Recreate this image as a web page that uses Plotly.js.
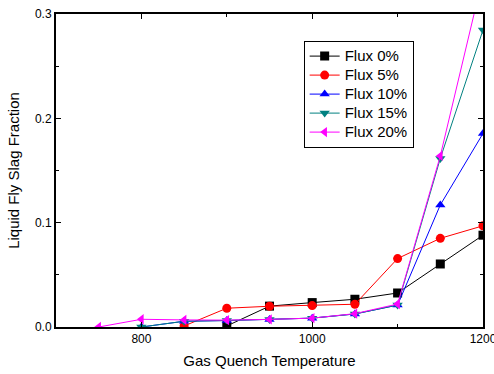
<!DOCTYPE html>
<html>
<head>
<meta charset="utf-8">
<script src="https://cdn.plot.ly/plotly-3.0.1.min.js"></script>
<style>html,body{margin:0;padding:0;background:#fff;}#chart{width:494px;height:374px;}</style>
</head>
<body>
<div id="chart"></div>
<script>
const x0 = [900, 950, 1000, 1050, 1100, 1150, 1200];
const flux0 = [0.001, 0.020, 0.0234, 0.0266, 0.0326, 0.0604, 0.088];
const x5 = [850, 900, 950, 1000, 1050, 1100, 1150, 1200];
const flux5 = [0.001, 0.018, 0.0199, 0.0205, 0.0218, 0.0656, 0.085, 0.097];
const x10 = [800, 850, 900, 950, 1000, 1050, 1100, 1150, 1200];
const flux10 = [0.0, 0.0055, 0.0062, 0.0071, 0.0085, 0.0125, 0.021, 0.117, 0.1855];
const x15 = [800, 850, 900, 950, 1000, 1050, 1100, 1150, 1200];
const flux15 = [0.0, 0.0055, 0.0062, 0.0071, 0.0085, 0.0125, 0.021, 0.1616, 0.2847];
const x20 = [750, 800, 850, 900, 950, 1000, 1050, 1100, 1150, 1200];
const flux20 = [0.0, 0.0074, 0.0068, 0.0066, 0.0073, 0.0085, 0.0128, 0.022, 0.164, 0.336];
const names = ['Flux 0%', 'Flux 5%', 'Flux 10%', 'Flux 15%', 'Flux 20%'];
const colors = ['#000000', '#ff0000', '#0000ff', '#008080', '#ff00ff'];
const symbols = ['square', 'circle', 'triangle-up', 'triangle-down', 'triangle-left'];
const xs = [x0, x5, x10, x15, x20];
const ys = [flux0, flux5, flux10, flux15, flux20];

const traces = names.map((n, i) => ({
  x: xs[i], y: ys[i], name: '<span style="font-size:15px">' + n + '</span>',
  type: 'scatter', mode: 'lines+markers',
  line: {color: colors[i], width: 1},
  marker: {color: colors[i], symbol: symbols[i], size: 9}
}));

const font = {family: 'Liberation Sans, Arial, sans-serif', color: '#000'};
const layout = {
  width: 494, height: 374,
  margin: {l: 56, r: 11, t: 14, b: 47},
  paper_bgcolor: '#fff', plot_bgcolor: '#fff',
  font: Object.assign({size: 12}, font),
  showlegend: true,
  legend: {
    x: 0.58, xanchor: 'left', y: 0.915, yanchor: 'top',
    bordercolor: '#000', borderwidth: 1, bgcolor: '#fff',
    font: Object.assign({size: 12}, font),
    tracegroupgap: 0, itemwidth: 30
  },
  xaxis: {
    range: [700, 1200], tick0: 0, dtick: 200,
    showline: true, linecolor: '#000', linewidth: 2, mirror: 'ticks',
    ticks: 'inside', ticklen: 5, tickwidth: 1, tickcolor: '#000',
    minor: {ticks: 'inside', dtick: 100, ticklen: 3, tickcolor: '#000', showgrid: false},
    showgrid: false, zeroline: false, ticklabeloverflow: 'allow',
    tickfont: Object.assign({size: 12}, font),
    title: {text: 'Gas Quench Temperature', font: Object.assign({size: 15}, font), standoff: 10}
  },
  yaxis: {
    range: [0, 0.3], tick0: 0, dtick: 0.1, tickformat: '.1f',
    showline: true, linecolor: '#000', linewidth: 2, mirror: 'ticks',
    ticks: 'inside', ticklen: 5, tickwidth: 1, tickcolor: '#000',
    minor: {ticks: 'inside', dtick: 0.05, ticklen: 3, tickcolor: '#000', showgrid: false},
    showgrid: false, zeroline: false, ticklabeloverflow: 'allow',
    tickfont: Object.assign({size: 12}, font),
    title: {text: 'Liquid Fly Slag Fraction', font: Object.assign({size: 15}, font), standoff: 12}
  }
};
Plotly.newPlot('chart', traces, layout, {displayModeBar: false, staticPlot: true});
</script>
</body>
</html>
